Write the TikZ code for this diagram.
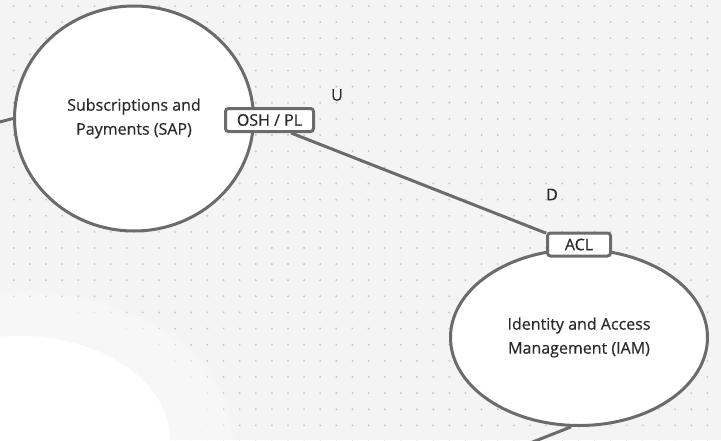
\documentclass[tikz,border=0pt]{standalone}
\usepackage{fontspec}
\setmainfont{Open Sans}[FakeBold=0.5]
\usetikzlibrary{shapes.geometric,positioning}
\definecolor{bgcol}{HTML}{F4F4F4}
\definecolor{dotcol}{HTML}{C8C8C8}
\definecolor{linecol}{HTML}{6B6B6B}
\definecolor{txtcol}{HTML}{2A2A2A}

\begin{document}
\begin{tikzpicture}[x=1pt,y=-1pt]
      \tikzstyle{context}=[ellipse, draw=linecol, line width=3pt, fill=white, inner sep=0pt, align=center, text=txtcol, font=\fontsize{16}{24}\selectfont]
      \tikzstyle{pattern}=[rectangle, rounded corners=3pt, draw=linecol, line width=3pt, fill=white, inner sep=0pt, text=txtcol, font=\fontsize{16}{19}\selectfont]
      \tikzstyle{connect}=[draw=linecol, line width=3pt]
      \tikzstyle{lbl}=[inner sep=0pt, text=txtcol, font=\fontsize{16}{19}\selectfont]

      \useasboundingbox (0,0) rectangle (721,440);
      \clip (0,0) rectangle (721,440);
      \fill[bgcol] (0,0) rectangle (721,440);
      % dot grid
      \foreach \i in {0,...,43}
        \foreach \j in {0,...,27}
          \fill[dotcol] (13.8+16.13*\i, 6+16.13*\j) circle (1.1);
      % smudge lower left
      \foreach \r in {1.0,0.988,...,0.7}
        \fill[white, opacity=0.12] (20,440) ellipse [x radius=215*\r, y radius=150*\r];
      \fill[white] (20,440) ellipse [x radius=150, y radius=104];

      \node[context, minimum width=239pt, minimum height=225pt] (sap) at (134,118.5) {Subscriptions and\\Payments (SAP)};
      \node[context, minimum width=257pt, minimum height=176pt] (iam) at (579,337.5) {Identity and Access\\Management (IAM)};
      \node[pattern, minimum width=88pt, minimum height=23pt] (osh) at (269.5,120) {OSH / PL};
      \node[pattern, minimum width=63pt, minimum height=23pt] (acl) [above=-9.5pt of iam.north] {ACL};

      \node[lbl] (u) at (337,95) {U};
      \node[lbl] (d) at (552,194.5) {D};

      \coordinate (sapout) at (-10,124.5);
      \coordinate (iamout) at (520,447);

      \path (osh.-31) edge [connect] (acl.161)
            (sap.west) edge [connect] (sapout)
            (iam.265) edge [connect] (iamout);
\end{tikzpicture}
\end{document}
